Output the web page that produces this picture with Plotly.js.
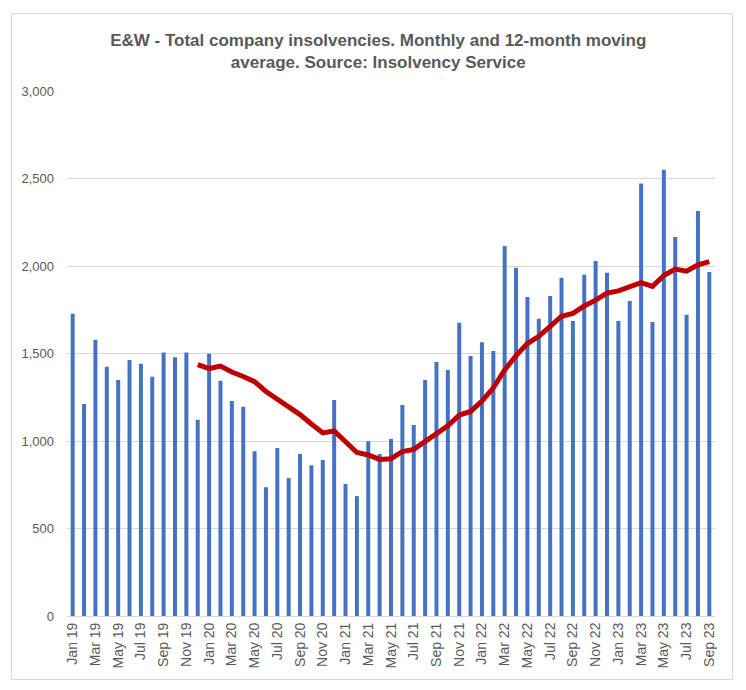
<!DOCTYPE html>
<html>
<head>
<meta charset="utf-8">
<script src="https://cdn.plot.ly/plotly-3.0.1.min.js"></script>
<style>
  html, body { margin: 0; padding: 0; background: #fff; }
  #frame { position: absolute; left: 11px; top: 13px; width: 720px; height: 665px; border: 1px solid #d9d9d9; }
  #chart { position: absolute; left: 0; top: 0; width: 746px; height: 690px; }
</style>
</head>
<body>
<div id="frame"></div>
<div id="chart"></div>
<script>
const months = [
  "Jan 19","Feb 19","Mar 19","Apr 19","May 19","Jun 19","Jul 19","Aug 19","Sep 19","Oct 19","Nov 19","Dec 19",
  "Jan 20","Feb 20","Mar 20","Apr 20","May 20","Jun 20","Jul 20","Aug 20","Sep 20","Oct 20","Nov 20","Dec 20",
  "Jan 21","Feb 21","Mar 21","Apr 21","May 21","Jun 21","Jul 21","Aug 21","Sep 21","Oct 21","Nov 21","Dec 21",
  "Jan 22","Feb 22","Mar 22","Apr 22","May 22","Jun 22","Jul 22","Aug 22","Sep 22","Oct 22","Nov 22","Dec 22",
  "Jan 23","Feb 23","Mar 23","Apr 23","May 23","Jun 23","Jul 23","Aug 23","Sep 23"
];

// monthly totals
const monthly = [
  1727, 1212, 1578, 1424, 1349, 1463, 1441, 1367, 1506, 1478, 1506, 1122,
  1498, 1345, 1228, 1196,  942,  736,  960,  789,  926,  862,  891, 1234,
   754,  685,  999,  926, 1012, 1206, 1091, 1349, 1451, 1406, 1676, 1486,
  1565, 1514, 2115, 1990, 1823, 1698, 1829, 1933, 1686, 1950, 2029, 1962,
  1686, 1800, 2471, 1680, 2550, 2166, 1721, 2315, 1966
];

// 12-month moving average (starts Dec 19)
const movingAvg = [
  null, null, null, null, null, null, null, null, null, null, null, 1437,
  1414, 1428, 1394, 1369, 1339, 1283, 1240, 1202, 1151, 1097, 1046, 1057,
   991,  934,  920,  895,  899,  940,  952,  997, 1046, 1087, 1148, 1169,
  1228, 1304, 1406, 1488, 1557, 1598, 1655, 1713, 1729, 1772, 1805, 1845,
  1858, 1878, 1905, 1884, 1946, 1982, 1970, 2007, 2025
];

const shownTicks = months.filter((m, i) => i % 2 === 0);

const grey = "#595959";

const traces = [
  {
    type: "bar",
    x: months,
    y: monthly,
    marker: { color: "#4472C4" },
    name: "Monthly",
    hoverinfo: "x+y"
  },
  {
    type: "scatter",
    mode: "lines",
    x: months,
    y: movingAvg,
    line: { color: "#C00000", width: 5 },
    name: "12-month moving average",
    connectgaps: false
  }
];

const layout = {
  width: 746,
  height: 690,
  margin: { l: 67, r: 31, t: 91, b: 74 },
  paper_bgcolor: "rgba(0,0,0,0)",
  plot_bgcolor: "rgba(0,0,0,0)",
  showlegend: false,
  bargap: 0.65,
  font: { family: "Liberation Sans, Arial, sans-serif", size: 13, color: grey },
  title: {
    text: "E&W - Total company insolvencies. Monthly and 12-month moving<br>average. Source: Insolvency Service",
    font: { family: "Liberation Sans, Arial, sans-serif", size: 17, color: grey, weight: "bold" },
    xref: "container",
    x: 0.507,
    xanchor: "center",
    yref: "container",
    y: 0.933,
    yanchor: "top"
  },
  xaxis: {
    type: "category",
    tickvals: shownTicks,
    tickangle: -90,
    showgrid: false,
    showline: true,
    linecolor: "#d9d9d9",
    linewidth: 1,
    ticks: "",
    tickfont: { size: 14, color: grey },
    fixedrange: true
  },
  yaxis: {
    range: [0, 3000],
    dtick: 500,
    tickformat: ",d",
    showgrid: true,
    gridcolor: "#d9d9d9",
    gridwidth: 1,
    zeroline: false,
    showline: false,
    ticks: "",
    ticklabelstandoff: 12,
    tickfont: { size: 13, color: grey },
    fixedrange: true
  }
};

Plotly.newPlot("chart", traces, layout, { displayModeBar: false, staticPlot: true });
</script>
</body>
</html>
